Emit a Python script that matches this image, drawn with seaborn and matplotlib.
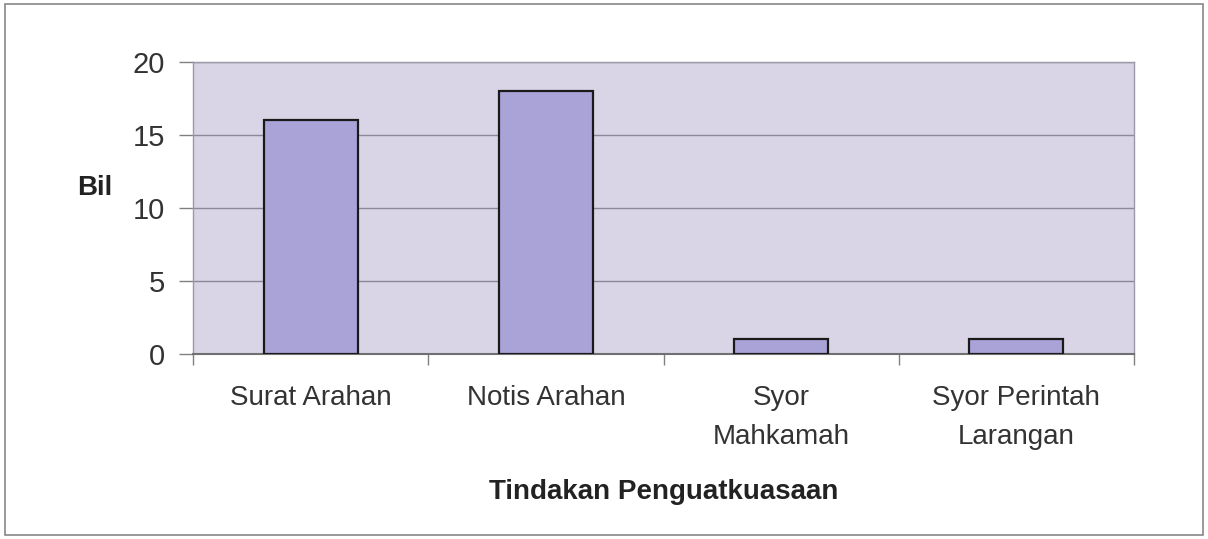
import matplotlib
matplotlib.use("Agg")
import matplotlib.pyplot as plt
import seaborn as sns
import pandas as pd
from matplotlib.patches import Rectangle

categories = ["Surat Arahan", "Notis Arahan", "Syor\nMahkamah", "Syor Perintah\nLarangan"]
values = [16, 18, 1, 1]
yticks = [0, 5, 10, 15, 20]

sns.set_theme(style="white")
plt.rcParams['font.family'] = ['Liberation Sans', 'DejaVu Sans']

fig = plt.figure(figsize=(12.08, 5.39), dpi=100)
ax = fig.add_axes([193/1208, 1-354/539, (1134-193)/1208, (354-62)/539])

df = pd.DataFrame({"cat": categories, "val": values})
sns.barplot(data=df, x="cat", y="val", ax=ax, color="#aaa3d8", saturation=1,
            width=0.4, edgecolor="#1a1a1a", linewidth=1.6, zorder=3)

ax.set_facecolor("#d9d5e7")
ax.set_ylim(0, 20)
ax.set_xlim(-0.5, 3.5)
ax.set_yticks(yticks)
ax.yaxis.grid(True, color="#8c8896", linewidth=1.0, zorder=1)
ax.set_axisbelow(True)
for s in ax.spines.values():
    s.set_color("#9c98a8")
    s.set_linewidth(1.0)
ax.spines['bottom'].set_color("#707070")
ax.spines['bottom'].set_linewidth(1.5)

ax.tick_params(axis='y', length=10, width=1, color="#808080", labelsize=21, labelcolor="#333333", pad=10, left=True)
ax.tick_params(axis='x', length=0, labelsize=20, labelcolor="#333333", pad=22)
for t in ax.get_xticklabels():
    t.set_linespacing(1.68)
# category boundary ticks
ax.set_xticks([-0.5, 0.5, 1.5, 2.5, 3.5], minor=True)
ax.tick_params(axis='x', which='minor', length=8, width=1, color="#808080", bottom=True)

ax.set_ylabel("Bil", fontsize=20, fontweight="bold", rotation=0, color="#222222", va="center")
ax.yaxis.set_label_coords(-0.104, 0.57)
ax.set_xlabel("Tindakan Penguatkuasaan", fontsize=20, fontweight="bold", color="#222222", labelpad=21)

fig.patches.append(Rectangle((5/1208, 4/539), 1198/1208, 531/539, transform=fig.transFigure,
                             fill=False, edgecolor="#888888", linewidth=1.2))

fig.savefig("out.png", dpi=100)
